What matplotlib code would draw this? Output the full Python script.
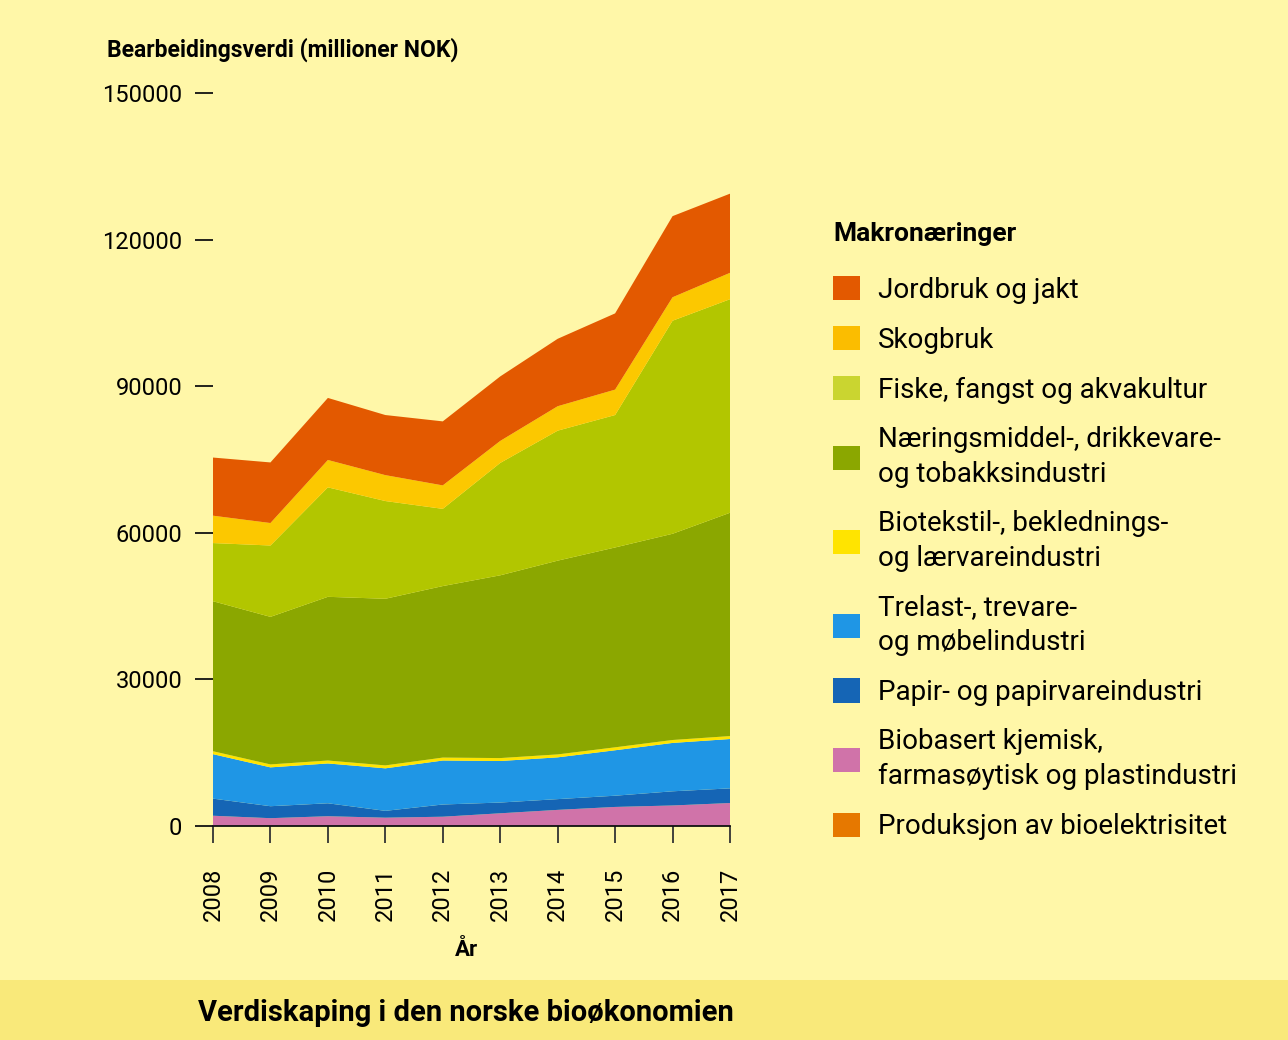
import matplotlib
matplotlib.use("Agg")
from matplotlib import pyplot as plt
from matplotlib.patches import Patch, Rectangle

plt.rcParams['font.family'] = ['Roboto', 'DejaVu Sans']

# Data (tusen millioner NOK), lest av figuren
aar = [2008, 2009, 2010, 2011, 2012, 2013, 2014, 2015, 2016, 2017]
biobasert = [2.1, 1.6, 2.0, 1.7, 1.9, 2.6, 3.3, 3.9, 4.2, 4.7]
papir = [3.5, 2.45, 2.65, 1.4, 2.5, 2.2, 2.2, 2.3, 2.9, 3.0]
trelast = [9.1, 7.95, 8.15, 8.7, 9.0, 8.5, 8.55, 9.3, 9.9, 10.1]
biotekstil = [0.6, 0.6, 0.6, 0.6, 0.6, 0.6, 0.6, 0.6, 0.6, 0.6]
naeringsmiddel = [30.7, 30.2, 33.5, 34.1, 35.1, 37.4, 39.65, 40.9, 42.2, 45.7]
fiske = [11.9, 14.6, 22.4, 20.0, 15.8, 23.0, 26.6, 27.1, 43.6, 43.7]
skogbruk = [5.6, 4.6, 5.6, 5.3, 4.8, 4.5, 5.0, 5.2, 4.8, 5.4]
jordbruk = [11.9, 12.4, 12.7, 12.3, 13.1, 13.2, 13.8, 15.6, 16.6, 16.2]
bioelektrisitet = [0, 0, 0, 0, 0, 0, 0, 0, 0, 0]

# tusen -> millioner
serier = [biobasert, papir, trelast, biotekstil, naeringsmiddel, fiske, skogbruk, jordbruk, bioelektrisitet]
serier = [[v * 1000 for v in s] for s in serier]

farger = ['#D073A9', '#1565B5', '#1F96E5', '#FFE400', '#8BA700', '#B2C600', '#FCC800', '#E35900', '#E67800']

etiketter = ["Jordbruk og jakt", "Skogbruk", "Fiske, fangst og akvakultur",
             "Næringsmiddel-, drikkevare-\nog tobakksindustri",
             "Biotekstil-, beklednings-\nog lærvareindustri",
             "Trelast-, trevare-\nog møbelindustri",
             "Papir- og papirvareindustri",
             "Biobasert kjemisk,\nfarmasøytisk og plastindustri",
             "Produksjon av bioelektrisitet"]
legend_farger = ['#E35900', '#FBBD00', '#CAD530', '#8BA700', '#FFE400', '#1F96E5', '#1565B5', '#D073A9', '#E67800']

bg = '#FFF7A8'
fig = plt.figure(figsize=(12.88, 10.40), dpi=100, facecolor=bg)
ax = fig.add_axes([213/1288, 1-826/1040, 517/1288, 733/1040])
ax.set_facecolor(bg)

ax.stackplot(aar, *serier, colors=farger, linewidth=0)

ax.set_xlim(2008, 2017)
ax.set_ylim(0, 150000)
ax.set_xticks(aar)
ax.set_xticklabels([str(a) for a in aar], rotation=90, fontsize=17)
ax.set_yticks([0, 30000, 60000, 90000, 120000, 150000])
ax.set_yticklabels(['0', '30000', '60000', '90000', '120000', '150000'], fontsize=17)
ax.tick_params(axis='y', length=13, width=1.3, color='#111111', pad=9, direction='out')
ax.tick_params(axis='x', length=12, width=1.3, color='#333333', pad=18, direction='out')
for s in ['top', 'right', 'left']:
    ax.spines[s].set_visible(False)
ax.spines['bottom'].set_color('#111111')
ax.spines['bottom'].set_linewidth(1.3)

fig.text(107/1288, 1-50/1040, "Bearbeidingsverdi (millioner NOK)", fontsize=16.5,
         fontweight='bold', ha='left', va='center')
fig.text(466/1288, 1-950/1040, "År", fontsize=16, fontweight='bold', ha='center', va='center')

# legende
fig.text(833/1288, 1-234/1040, "Makronæringer", fontsize=19, fontweight='bold',
         ha='left', va='center')
handles = [Patch(facecolor=c, edgecolor='none') for c in legend_farger]
leg = fig.legend(handles, etiketter, loc='upper left', bbox_to_anchor=(833/1288, 1-276/1040),
                 frameon=False, fontsize=20, borderpad=0, borderaxespad=0,
                 handlelength=0.97, handleheight=0.97, handletextpad=0.65, labelspacing=0.8)
for t in leg.get_texts():
    t.set_linespacing(1.38)

# nederste bånd med tittel
fig.patches.append(Rectangle((0, 0), 1, 60/1040, transform=fig.transFigure,
                             facecolor='#F9E97A', edgecolor='none', zorder=0))
fig.text(466/1288, 1-1013/1040, "Verdiskaping i den norske bioøkonomien", fontsize=21,
         fontweight='bold', ha='center', va='center')

fig.savefig('out.png', dpi=100, facecolor=bg)
